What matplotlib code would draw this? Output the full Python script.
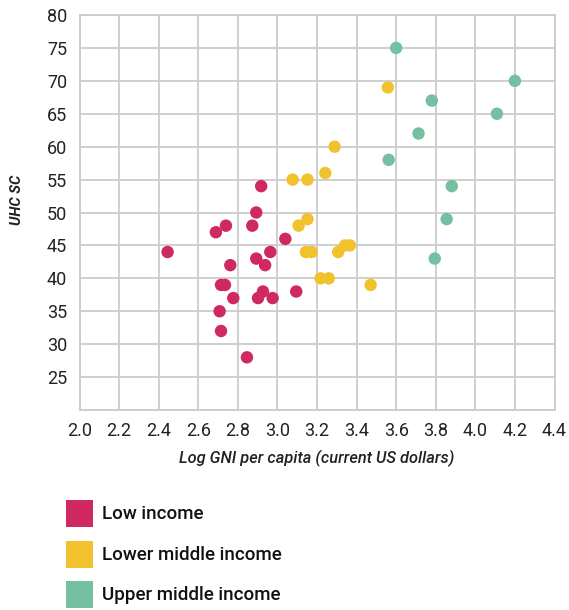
import matplotlib
matplotlib.use("Agg")
import matplotlib.pyplot as plt
from matplotlib.patches import Rectangle

plt.rcParams['font.family'] = ['Roboto', 'DejaVu Sans']

categories = ["Low income", "Lower middle income", "Upper middle income"]
colors = ["#CF2A5F", "#F2C12E", "#74C0A1"]

low_x = [2.445, 2.689, 2.74, 2.893, 2.873, 3.04, 2.762, 2.893, 2.964, 2.938,
         2.715, 2.735, 2.777, 2.902, 2.927, 2.976, 3.095, 2.708, 2.715, 2.846, 2.918]
low_y = [44, 47, 48, 50, 48, 46, 42, 43, 44, 42,
         39, 39, 37, 37, 38, 37, 38, 35, 32, 28, 54]

lmid_x = [3.077, 3.152, 3.107, 3.152, 3.144, 3.174, 3.218, 3.259, 3.558, 3.289,
          3.242, 3.307, 3.341, 3.366, 3.471]
lmid_y = [55, 55, 48, 49, 44, 44, 40, 40, 69, 60,
          56, 44, 45, 45, 39]

umid_x = [3.60, 4.20, 3.78, 4.109, 3.713, 3.562, 3.881, 3.855, 3.795]
umid_y = [75, 70, 67, 65, 62, 58, 54, 49, 43]

x_ticks = [2.0, 2.2, 2.4, 2.6, 2.8, 3.0, 3.2, 3.4, 3.6, 3.8, 4.0, 4.2, 4.4]
y_ticks = [20, 25, 30, 35, 40, 45, 50, 55, 60, 65, 70, 75, 80]

fig = plt.figure(figsize=(5.69, 6.10), dpi=100)
ax = fig.add_axes([79.5 / 569, 1 - 410 / 610, (554.5 - 79.5) / 569, (410 - 15) / 610])

series = [(low_x, low_y), (lmid_x, lmid_y), (umid_x, umid_y)]
for (xs, ys), c in zip(series, colors):
    ax.scatter(xs, ys, s=80, color=c, edgecolors='none', zorder=3)

ax.set_xlim(2.0, 4.4)
ax.set_ylim(20, 80)
ax.set_xticks(x_ticks)
ax.set_xticklabels([f"{v:.1f}" for v in x_ticks])
ax.set_yticks(y_ticks)
ax.set_yticklabels(["" if v == 20 else str(v) for v in y_ticks])
ax.grid(True, color="#cccccc", linewidth=1.3, zorder=0)
ax.set_axisbelow(True)
for s in ax.spines.values():
    s.set_color("#cccccc")
    s.set_linewidth(1.3)
ax.tick_params(length=0, labelsize=13, colors="#222222", pad=9)

ax.set_xlabel("Log GNI per capita (current US dollars)", fontsize=11.8,
              style='italic', fontweight='medium', color="#222222")
ax.xaxis.set_label_coords(0.5, -0.102)
ax.set_ylabel("UHC SC", fontsize=10.5, style='italic', fontweight='bold',
              color="#222222")
ax.yaxis.set_label_coords(-0.117, 0.532)

# legend
leg_y = [500, 541, 581]
for cat, c, yt in zip(categories, colors, leg_y):
    fig.add_artist(Rectangle((66 / 569, 1 - (yt + 27) / 610), 27 / 569, 27 / 610,
                             transform=fig.transFigure, color=c, linewidth=0))
    fig.text(101.5 / 569, 1 - (yt + 14) / 610, cat, fontsize=13.5, fontweight='medium',
             color="#111111", va='center', ha='left')

fig.savefig("out.png", dpi=100)
